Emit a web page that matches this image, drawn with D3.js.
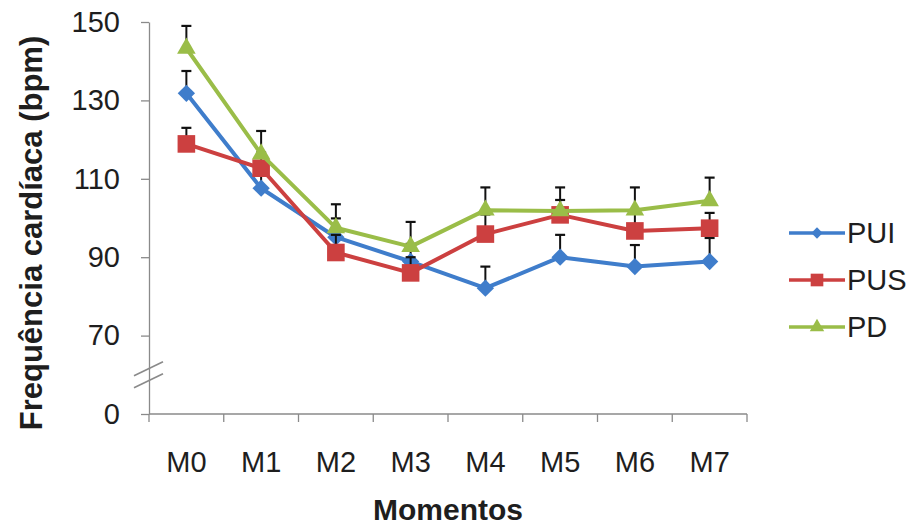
<!DOCTYPE html>
<html>
<head>
<meta charset="utf-8">
<script src="https://cdn.jsdelivr.net/npm/d3@7"></script>
<style>
  html, body { margin: 0; padding: 0; background: #ffffff; }
  svg { display: block; font-family: "Liberation Sans", Arial, sans-serif; }
</style>
</head>
<body>
<svg id="chart" width="920" height="528"></svg>
<script>
// Heart rate (bpm) per moment, mean with upper error bar
const categories = ["M0", "M1", "M2", "M3", "M4", "M5", "M6", "M7"];
const seriesNames = ["PUI", "PUS", "PD"];
const puiValues = [131.8, 107.6, 95.1, 88.9, 82.1, 90.0, 87.6, 88.9];
const pusValues = [118.9, 112.7, 91.2, 86.0, 95.9, 100.8, 96.7, 97.4];
const pdValues  = [143.3, 116.3, 97.5, 92.7, 102.0, 101.8, 102.0, 104.4];
const puiErrors = [5.7, 4.5, 4.8, 4.5, 5.5, 5.7, 5.5, 6.0];
const pusErrors = [4.1, 4.0, 4.5, 4.0, 5.0, 3.8, 4.5, 3.9];
const pdErrors  = [5.7, 5.9, 6.0, 6.3, 5.8, 6.0, 5.8, 5.9];
const yTickValues = [50, 70, 90, 110, 130, 150];
const yTickLabels = ["0", "70", "90", "110", "130", "150"];
const yBreakValue = 60;

const series = [
  { name: seriesNames[0], values: puiValues, errors: puiErrors, color: "#3F7DCB", shape: "diamond" },
  { name: seriesNames[1], values: pusValues, errors: pusErrors, color: "#CC4040", shape: "square" },
  { name: seriesNames[2], values: pdValues,  errors: pdErrors,  color: "#9ABD48", shape: "triangle" }
];

const svg = d3.select("#chart");
const axisColor = "#8a8a8a";
const textColor = "#1e1e1e";

const x = d3.scaleBand().domain(categories).range([149, 747]);
const y = d3.scaleLinear().domain([50, 150]).range([414, 22]);
const cx = c => x(c) + x.bandwidth() / 2;

function symbolPath(shape, big) {
  if (shape === "diamond") return d3.symbol(d3.symbolSquare, big ? 150 : 64)();
  if (shape === "square") return d3.symbol(d3.symbolSquare, big ? 310 : 160)();
  return d3.symbol(d3.symbolTriangle, big ? 150 : 90)();
}
const symbolRotate = shape => shape === "diamond" ? " rotate(45)" : "";

// Y axis
const yAxis = d3.axisLeft(y)
  .tickValues(yTickValues)
  .tickFormat((d, i) => yTickLabels[i])
  .tickSize(8)
  .tickSizeOuter(0)
  .tickPadding(21);
const gy = svg.append("g").attr("transform", `translate(${x.range()[0]},0)`).call(yAxis);
gy.selectAll("path, line").attr("stroke", axisColor).attr("stroke-width", 1.3);
gy.selectAll("text").attr("fill", textColor).attr("font-size", 29)
  .attr("font-family", "'Liberation Sans', Arial, sans-serif");

// Axis break marks
const bx = x.range()[0], by = y(yBreakValue);
[-6, 6].forEach(off => {
  svg.append("line")
    .attr("x1", bx - 15).attr("y1", by + off + 7)
    .attr("x2", bx + 14).attr("y2", by + off - 7)
    .attr("stroke", axisColor).attr("stroke-width", 1.6);
});

// X axis: line, boundary ticks, category labels
const gx = svg.append("g");
gx.append("line")
  .attr("x1", x.range()[0]).attr("x2", x.range()[1])
  .attr("y1", y.range()[0]).attr("y2", y.range()[0])
  .attr("stroke", axisColor).attr("stroke-width", 1.3);
const boundaries = categories.map(c => x(c)).concat([x.range()[1]]);
gx.selectAll("line.tick").data(boundaries).join("line")
  .attr("class", "tick")
  .attr("x1", d => d).attr("x2", d => d)
  .attr("y1", y.range()[0]).attr("y2", y.range()[0] + 8)
  .attr("stroke", axisColor).attr("stroke-width", 1.3);
const xAxis = d3.axisBottom(x).tickSize(0).tickPadding(0);
const gxl = svg.append("g").attr("transform", `translate(0,${y.range()[0]})`).call(xAxis);
gxl.select(".domain").remove();
gxl.selectAll("text").attr("fill", textColor).attr("font-size", 29)
  .attr("font-family", "'Liberation Sans', Arial, sans-serif")
  .attr("dy", null).attr("y", 58);

// Axis titles
svg.append("text")
  .attr("transform", `translate(42,${(y.range()[0] + y.range()[1]) / 2 + 15}) rotate(-90)`)
  .attr("text-anchor", "middle")
  .attr("font-size", 31).attr("font-weight", "bold").attr("fill", textColor)
  .text("Frequência cardíaca (bpm)");
svg.append("text")
  .attr("x", (x.range()[0] + x.range()[1]) / 2).attr("y", 520)
  .attr("text-anchor", "middle")
  .attr("font-size", 30).attr("font-weight", "bold").attr("fill", textColor)
  .text("Momentos");

// Series: line, upper error bars, markers
const line = d3.line().x((d, i) => cx(categories[i])).y(d => y(d));
series.forEach(s => {
  const g = svg.append("g");
  g.append("path").datum(s.values)
    .attr("d", line).attr("fill", "none")
    .attr("stroke", s.color).attr("stroke-width", 4).attr("stroke-linejoin", "round");
  const eb = g.selectAll("g.err").data(s.values).join("g").attr("class", "err");
  eb.append("line")
    .attr("x1", (d, i) => cx(categories[i])).attr("x2", (d, i) => cx(categories[i]))
    .attr("y1", d => y(d)).attr("y2", (d, i) => y(d + s.errors[i]))
    .attr("stroke", "#111").attr("stroke-width", 2);
  eb.append("line")
    .attr("x1", (d, i) => cx(categories[i]) - 5).attr("x2", (d, i) => cx(categories[i]) + 5)
    .attr("y1", (d, i) => y(d + s.errors[i])).attr("y2", (d, i) => y(d + s.errors[i]))
    .attr("stroke", "#111").attr("stroke-width", 2.2);
  g.selectAll("path.mark").data(s.values).join("path")
    .attr("class", "mark")
    .attr("d", symbolPath(s.shape, true))
    .attr("transform", (d, i) => `translate(${cx(categories[i])},${y(d)})${symbolRotate(s.shape)}`)
    .attr("fill", s.color);
});

// Legend
const legend = svg.append("g");
series.forEach((s, i) => {
  const ly = 233 + i * 47;
  legend.append("line")
    .attr("x1", 789).attr("x2", 845).attr("y1", ly).attr("y2", ly)
    .attr("stroke", s.color).attr("stroke-width", 3.5);
  legend.append("path")
    .attr("d", symbolPath(s.shape, false))
    .attr("transform", `translate(817,${ly})${symbolRotate(s.shape)}`)
    .attr("fill", s.color);
  legend.append("text")
    .attr("x", 847).attr("y", ly).attr("dy", "0.35em")
    .attr("font-size", 29).attr("fill", textColor)
    .text(s.name);
});
</script>
</body>
</html>
